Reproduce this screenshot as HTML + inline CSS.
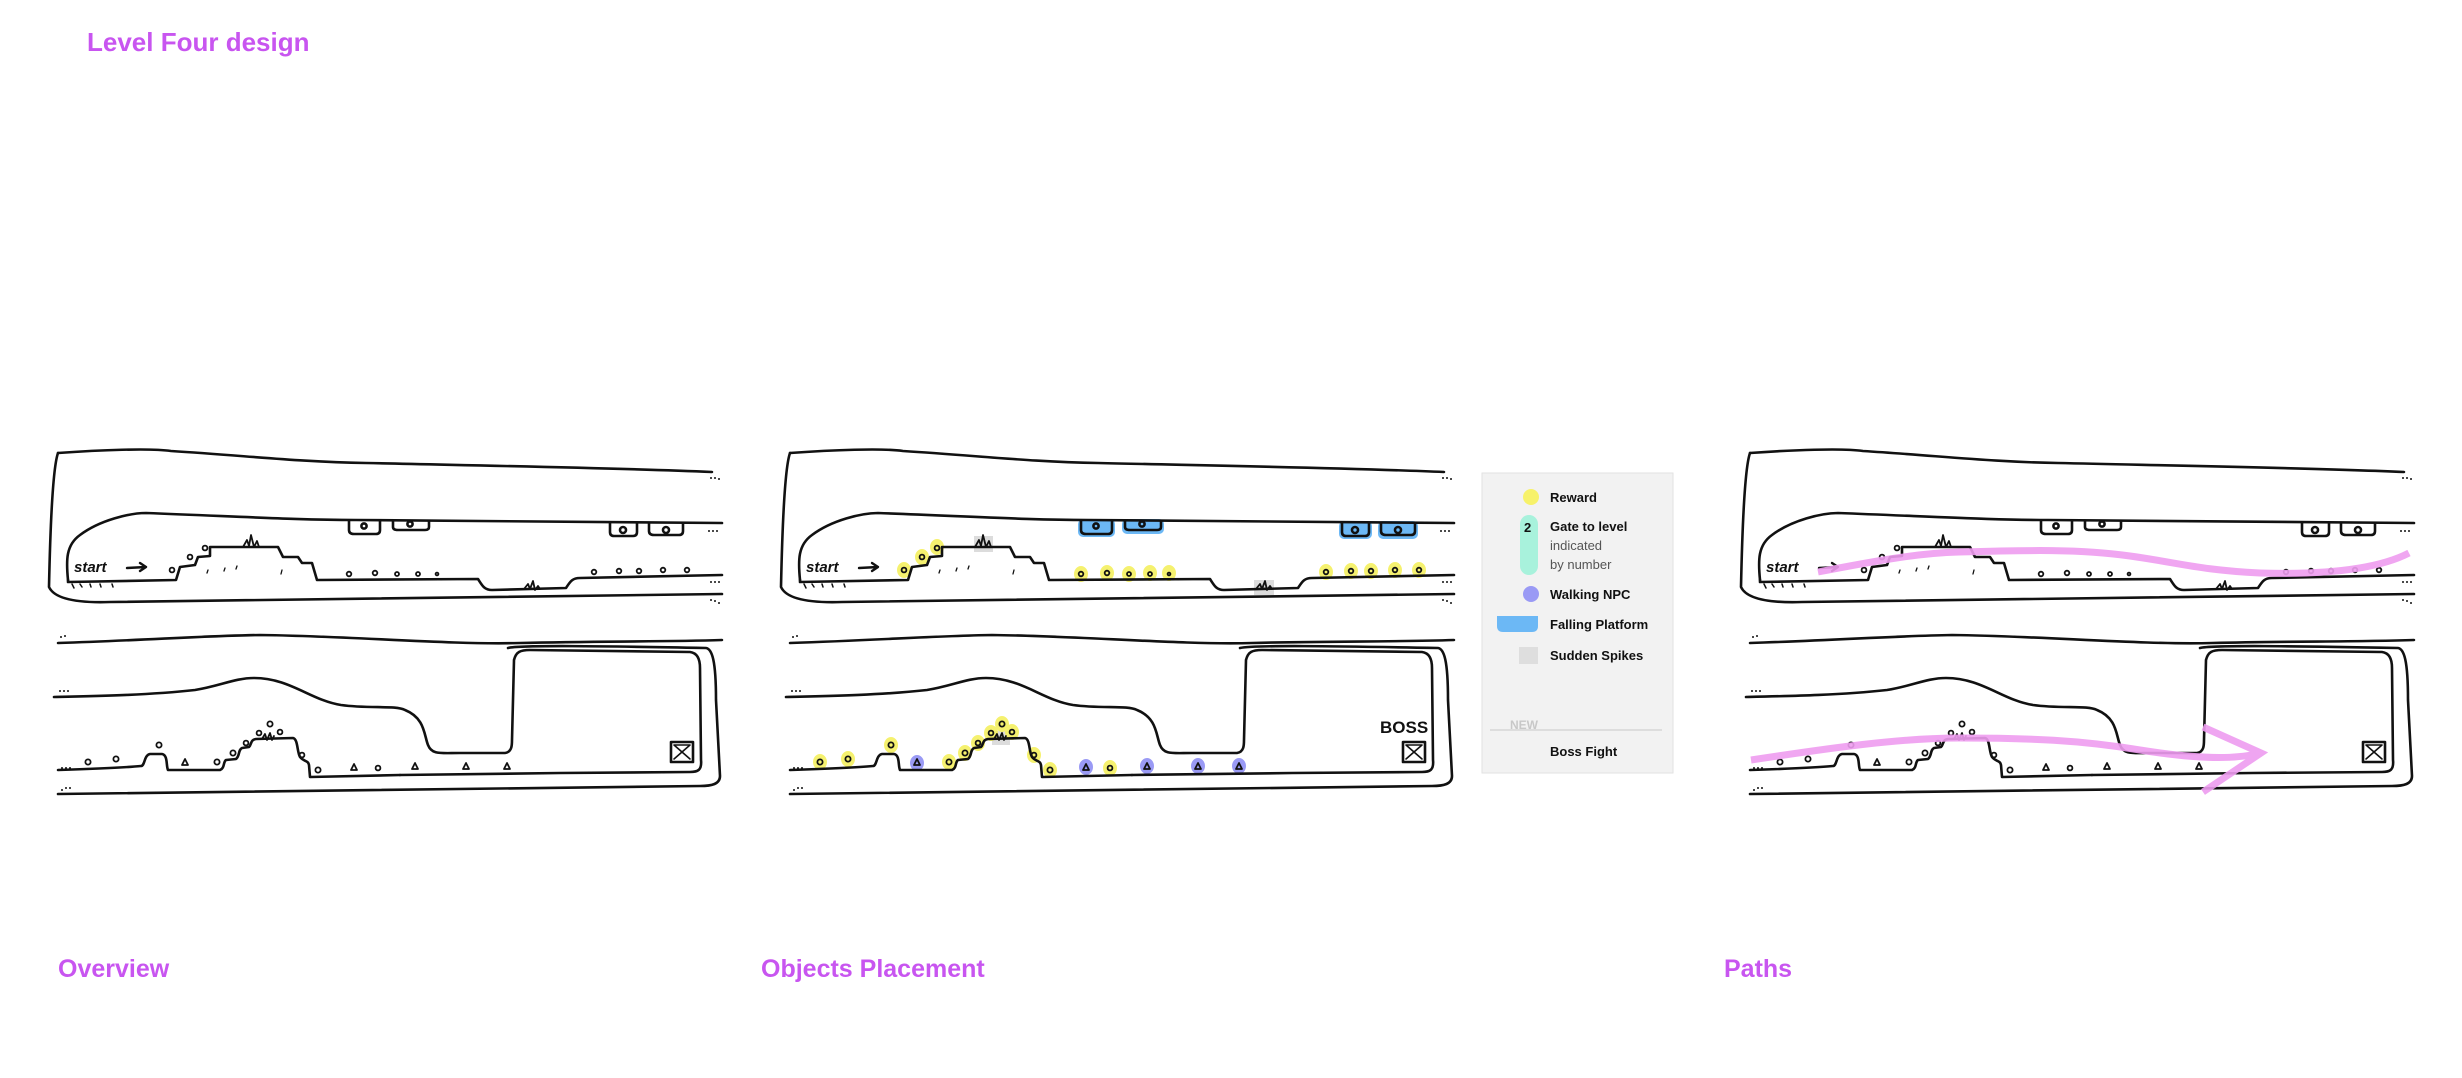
<!DOCTYPE html>
<html><head><meta charset="utf-8"><style>
html,body{margin:0;padding:0;background:#fff;}
svg{display:block;}
text{font-family:"Liberation Sans",sans-serif;}
</style></head><body>
<svg width="2462" height="1078" viewBox="0 0 2462 1078" xmlns="http://www.w3.org/2000/svg">
<defs>
<g id="sk" fill="none" stroke="#111" stroke-width="2.6" stroke-linejoin="round" stroke-linecap="round">
  <path d="M58,453 C100,450 150,448 171,451 C250,456 300,462 366,463 C500,466 620,468 712,472"/>
  <path d="M58,453 C52,470 50,540 49,587 C55,600 80,603 110,602 C300,600 500,597 722,594"/>
  <path d="M68,580 C66,560 66,545 80,535 C100,520 130,513 146,513 C250,517 300,520 356,520 C500,521 620,523 722,523"/>
  <path d="M68,580 L68,582 L176,580 L180,567 L195,565 L198,557 L210,556 L210,547 L278,547 L283,557 L298,557 L302,563 L312,563 L317,580 L478,579 C482,585 484,590 492,590 L566,588 C570,582 572,578 580,578 L722,575"/>
  <path d="M243,547 L247,540 L249,546 L251,535 L254,547 L257,541 L259,547" stroke-width="1.8"/>
  <path d="M524,589 L528,584 L530,589 L533,581 L535,590 L538,586 L540,589" stroke-width="1.8"/>
  <path d="M72,584 L74,588 M80,584 L82,587 M90,584 L91,587 M100,584 L101,587 M112,584 L113,587" stroke-width="1.5"/>
  <path d="M208,570 L207,573 M225,568 L224,571 M237,566 L236,569 M282,570 L281,574" stroke-width="1.3"/>
  <path d="M349,521 L349,530 Q349,534 354,534 L376,534 Q380,534 380,530 L380,521"/>
  <path d="M393,521 L393,527 Q393,530 398,530 L425,530 Q429,530 429,527 L429,521"/>
  <path d="M610,523 L610,532 Q610,536 614,536 L633,536 Q637,536 637,532 L637,523"/>
  <path d="M649,523 L649,531 Q649,535 654,535 L679,535 Q683,535 683,531 L683,523"/>
  <circle cx="364" cy="526" r="2.6"/><circle cx="410" cy="524" r="2.6"/>
  <circle cx="623" cy="530" r="3"/><circle cx="666" cy="530" r="3"/>
  <g stroke-width="1.8">
  <circle cx="172" cy="570" r="2.4"/><circle cx="190" cy="557" r="2.4"/><circle cx="205" cy="548" r="2.4"/>
  <circle cx="349" cy="574" r="2.3"/><circle cx="375" cy="573" r="2.3"/><circle cx="397" cy="574" r="2"/><circle cx="418" cy="574" r="2"/><circle cx="437" cy="574" r="1.4"/>
  <circle cx="594" cy="572" r="2.3"/><circle cx="619" cy="571" r="2.3"/><circle cx="639" cy="571" r="2.3"/><circle cx="663" cy="570" r="2.3"/><circle cx="687" cy="570" r="2.3"/>
  </g>
  <path d="M127,568 L146,567 M140,563 L146,567 L140,571" stroke-width="2.4"/>
  <path d="M58,643 C150,640 200,636 260,635 C350,636 450,645 520,643 C600,641 660,642 722,640"/>
  <path d="M54,697 C100,696 150,695 195,690 C220,686 235,678 254,678 C290,678 310,700 341,705 C370,709 395,705 405,710 C425,718 424,735 428,745 C432,755 440,753 460,753 L505,753 C512,752 512,745 512,740 L514,660 C516,652 520,650 530,650 L690,652 C698,653 700,660 700,668 L701,760 C702,770 698,772 690,772 L560,773 L400,775"/>
  <path d="M58,770 C90,769 120,768 141,766 C145,766 144,755 150,754 L162,754 C168,755 166,766 168,770 L220,770 C225,768 223,762 226,760 L236,759 C240,756 238,750 242,748 L249,747 C252,744 250,740 256,739 L293,738 C298,739 297,752 300,757 C304,762 308,760 309,765 L310,777 L400,775"/>
  <path d="M262,739 L265,734 L267,740 L270,733 L272,740 L274,736" stroke-width="1.8"/>
  <path d="M508,648 C520,645 600,646 706,648 C712,649 716,660 716,700 L720,776 C720,784 712,786 700,786 C600,788 400,790 58,794"/>
  <rect x="671" y="742" width="22" height="20"/>
  <path d="M674,745 L690,759 M690,745 L674,759 M674,745 L690,745 L682,752 Z" stroke-width="1.6"/>
  <g stroke-width="1.8">
  <circle cx="88" cy="762" r="2.6"/><circle cx="116" cy="759" r="2.6"/><circle cx="159" cy="745" r="2.6"/>
  <circle cx="217" cy="762" r="2.6"/><circle cx="233" cy="753" r="2.6"/><circle cx="246" cy="743" r="2.4"/>
  <circle cx="259" cy="733" r="2.4"/><circle cx="270" cy="724" r="2.6"/><circle cx="280" cy="732" r="2.4"/>
  <circle cx="302" cy="755" r="2.4"/><circle cx="318" cy="770" r="2.6"/><circle cx="378" cy="768" r="2.4"/>
  <path d="M185,759 L182,765 L188,765 Z M354,764 L351,770 L357,770 Z M415,763 L412,769 L418,769 Z M466,763 L463,769 L469,769 Z M507,763 L504,769 L510,769 Z"/>
  </g>
  <g fill="#111" stroke="none">
  <circle cx="711" cy="478" r="1"/><circle cx="715" cy="478" r="1"/><circle cx="719" cy="479" r="1"/>
  <circle cx="709" cy="531" r="1"/><circle cx="713" cy="531" r="1"/><circle cx="717" cy="531" r="1"/>
  <circle cx="711" cy="582" r="1"/><circle cx="715" cy="582" r="1"/><circle cx="719" cy="582" r="1"/>
  <circle cx="711" cy="600" r="1"/><circle cx="715" cy="601" r="1"/><circle cx="719" cy="603" r="1"/>
  <circle cx="61" cy="637" r="1"/><circle cx="65" cy="636" r="1"/>
  <circle cx="60" cy="691" r="1"/><circle cx="64" cy="691" r="1"/><circle cx="68" cy="691" r="1"/>
  <circle cx="62" cy="768" r="1"/><circle cx="66" cy="768" r="1"/><circle cx="70" cy="768" r="1"/>
  <circle cx="62" cy="790" r="1"/><circle cx="66" cy="788" r="1"/><circle cx="70" cy="788" r="1"/>
  </g>
</g>
</defs>

<text x="87" y="51" font-size="26" font-weight="bold" fill="#c855f0">Level Four design</text>

<use href="#sk"/>
<text x="74" y="572" font-size="15" font-weight="bold" fill="#111" font-style="italic">start</text>

<g transform="translate(732,0)">
  <g fill="#6cb8f5">
    <rect x="346" y="519" width="37" height="18" rx="5"/><rect x="390" y="519" width="42" height="15" rx="5"/>
    <rect x="607" y="521" width="33" height="18" rx="5"/><rect x="646" y="521" width="40" height="18" rx="5"/>
  </g>
  <g fill="#dcdcdc">
    <rect x="242" y="536" width="19" height="16"/><rect x="522" y="580" width="20" height="15"/>
    <rect x="260" y="731" width="18" height="14"/>
  </g>
  <g fill="#f5f060" opacity="0.9">
    <ellipse cx="172" cy="570" rx="7" ry="8"/><ellipse cx="190" cy="557" rx="7" ry="8"/><ellipse cx="205" cy="547" rx="7" ry="8"/>
    <ellipse cx="349" cy="574" rx="7" ry="8"/><ellipse cx="375" cy="573" rx="7" ry="8"/><ellipse cx="397" cy="574" rx="7" ry="8"/><ellipse cx="418" cy="573" rx="7" ry="8"/><ellipse cx="437" cy="573" rx="7" ry="8"/>
    <ellipse cx="594" cy="572" rx="7" ry="8"/><ellipse cx="619" cy="571" rx="7" ry="8"/><ellipse cx="639" cy="571" rx="7" ry="8"/><ellipse cx="663" cy="570" rx="7" ry="8"/><ellipse cx="687" cy="570" rx="7" ry="8"/>
    <ellipse cx="88" cy="762" rx="7" ry="8"/><ellipse cx="116" cy="759" rx="7" ry="8"/><ellipse cx="159" cy="745" rx="7" ry="8"/>
    <ellipse cx="217" cy="762" rx="7" ry="8"/><ellipse cx="233" cy="753" rx="7" ry="8"/><ellipse cx="246" cy="743" rx="7" ry="8"/>
    <ellipse cx="259" cy="733" rx="7" ry="8"/><ellipse cx="270" cy="724" rx="7" ry="8"/><ellipse cx="280" cy="732" rx="7" ry="8"/>
    <ellipse cx="302" cy="755" rx="7" ry="8"/><ellipse cx="318" cy="770" rx="7" ry="8"/><ellipse cx="378" cy="768" rx="7" ry="8"/>
  </g>
  <g fill="#9a9af5">
    <ellipse cx="185" cy="763" rx="7" ry="8"/><ellipse cx="354" cy="767" rx="7" ry="8"/><ellipse cx="415" cy="766" rx="7" ry="8"/><ellipse cx="466" cy="766" rx="7" ry="8"/><ellipse cx="507" cy="766" rx="7" ry="8"/>
  </g>
  <use href="#sk"/>
  <text x="74" y="572" font-size="15" font-weight="bold" fill="#111" font-style="italic">start</text>
  <text x="648" y="733" font-size="17" font-weight="bold" fill="#111">BOSS</text>
</g>

<rect x="1482" y="473" width="191" height="300" fill="#f2f2f2" stroke="#e2e2e2"/>
<circle cx="1531" cy="497" r="8" fill="#f7f26a"/>
<text x="1550" y="502" font-size="13" font-weight="bold" fill="#111">Reward</text>
<rect x="1520" y="515" width="18" height="60" rx="9" fill="#a8f2dc"/>
<text x="1524" y="532" font-size="13" font-weight="bold" fill="#111">2</text>
<text x="1550" y="531" font-size="13" font-weight="bold" fill="#111">Gate to level</text>
<text x="1550" y="550" font-size="13" fill="#555">indicated</text>
<text x="1550" y="569" font-size="13" fill="#555">by number</text>
<circle cx="1531" cy="594" r="8" fill="#9a9af5"/>
<text x="1550" y="599" font-size="13" font-weight="bold" fill="#111">Walking NPC</text>
<path d="M1497,616 L1538,616 L1538,626 Q1538,632 1532,632 L1503,632 Q1497,632 1497,626 Z" fill="#6cb8f5"/>
<text x="1550" y="629" font-size="13" font-weight="bold" fill="#111">Falling Platform</text>
<rect x="1519" y="647" width="19" height="17" fill="#dedede"/>
<text x="1550" y="660" font-size="13" font-weight="bold" fill="#111">Sudden Spikes</text>
<text x="1510" y="729" font-size="12" font-weight="bold" fill="#c8c8c8">NEW</text>
<line x1="1490" y1="730" x2="1662" y2="730" stroke="#c8c8c8" stroke-width="1"/>
<text x="1550" y="756" font-size="13" font-weight="bold" fill="#111">Boss Fight</text>

<g transform="translate(1692,0)">
  <use href="#sk"/>
  <text x="74" y="572" font-size="15" font-weight="bold" fill="#111" font-style="italic">start</text>
</g>
<g fill="none" stroke="#ee9cf0" stroke-width="7" stroke-linecap="butt" opacity="0.9">
  <path d="M1818,572 C1880,560 1920,553 1959,552 C2030,550 2080,549 2130,556 C2180,563 2200,570 2260,573 C2330,575 2380,568 2409,553"/>
  <path d="M1751,760 C1830,748 1900,738 1959,738 C2030,738 2080,740 2140,750 C2190,758 2230,760 2256,754"/>
  <path d="M2203,727 L2261,753 L2203,792"/>
</g>

<text x="58" y="977" font-size="25" font-weight="bold" fill="#c855f0">Overview</text>
<text x="761" y="977" font-size="25" font-weight="bold" fill="#c855f0">Objects Placement</text>
<text x="1724" y="977" font-size="25" font-weight="bold" fill="#c855f0">Paths</text>
</svg>
</body></html>
